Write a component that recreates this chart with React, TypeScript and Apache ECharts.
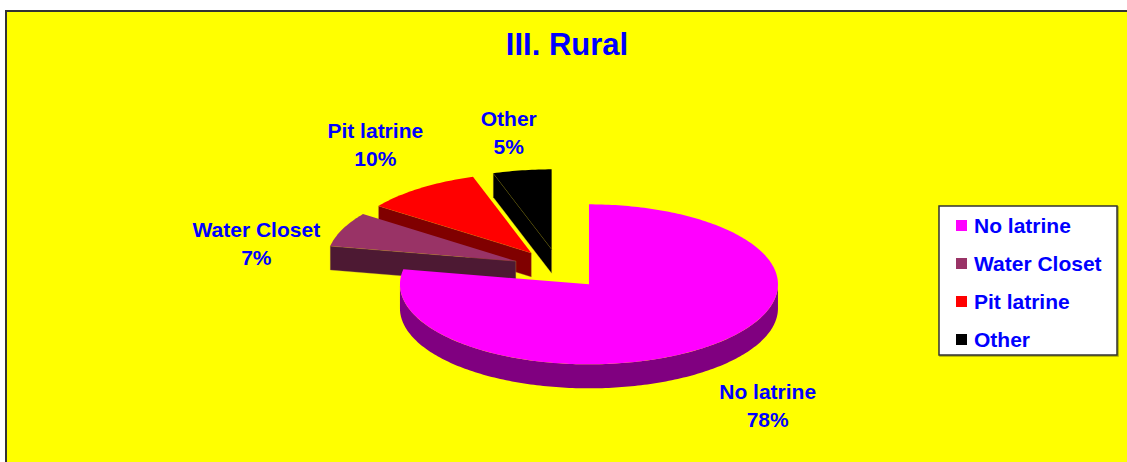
import React, { useEffect, useRef } from "react";
import * as echarts from "echarts";

// ---- data ----
const titleText = "III. Rural";
const categories = ["No latrine", "Water Closet", "Pit latrine", "Other"];
const values = [78, 7, 10, 5];

// ---- styles / layout ----
const topColors = ["#FF00FF", "#993366", "#FF0000", "#000000"];
const sideColors = ["#800080", "#4D1933", "#800000", "#000000"];
const labelNudge = [
  [4, 32],
  [-8, 28],
  [5, -15],
  [0, -2],
];
const CX = 559;
const CY = 269;
const RX = 189;
const RY = 80;
const DEPTH = 24;
const EXPLODE = 47;
const LABEL_R = 1.45;
const FONT = "Arial, 'Liberation Sans', Helvetica, sans-serif";
const BLUE = "#0000FF";

const rad = (d: number) => (d * Math.PI) / 180;

function makeRender(i: number) {
  return (params: any, api: any) => {
    const total = values.reduce((a, b) => a + b, 0);
    const cum = values.slice(0, i).reduce((a, b) => a + b, 0);
    const v = api.value(0) as number;
    const a0 = (cum / total) * 360;
    const a1 = ((cum + v) / total) * 360;
    const t0 = 90 - a0;
    const t1 = 90 - a1;
    const tm = (t0 + t1) / 2;
    const k = RY / RX;
    const vx = CX + EXPLODE * Math.cos(rad(tm));
    const vy = CY - EXPLODE * k * Math.sin(rad(tm));
    const pt = (t: number, dz = 0) => [
      vx + RX * Math.cos(rad(t)),
      vy - RY * Math.sin(rad(t)) + dz,
    ];
    const arc = (from: number, to: number, dz: number) => {
      const n = Math.max(2, Math.ceil(Math.abs(to - from)));
      const pts: number[][] = [];
      for (let j = 0; j <= n; j++) pts.push(pt(from + ((to - from) * j) / n, dz));
      return pts;
    };
    const base = Math.round((1 - Math.sin(rad(tm))) * 100) * 10;
    const children: any[] = [];
    const edges = [
      [t0, t0 + 90],
      [t1, t1 - 90],
    ];
    edges.forEach(([te, tn]) => {
      if (Math.sin(rad(tn)) < -1e-6) {
        const p = pt(te);
        children.push({
          type: "polygon",
          z2: base,
          shape: {
            points: [
              [vx, vy],
              p,
              [p[0], p[1] + DEPTH],
              [vx, vy + DEPTH],
            ],
          },
          style: { fill: sideColors[i], stroke: "rgba(200,170,60,0.55)", lineWidth: 0.6 },
        });
      }
    });
    [-360, 0, 360].forEach((off) => {
      const lo = Math.max(t1, -180 + off);
      const hi = Math.min(t0, off);
      if (hi - lo > 1e-6) {
        const top = arc(lo, hi, 0);
        const bottom = arc(hi, lo, DEPTH);
        children.push({
          type: "polygon",
          z2: base,
          shape: { points: top.concat(bottom) },
          style: { fill: sideColors[i] },
        });
      }
    });
    children.push({
      type: "polygon",
      z2: base + 1,
      shape: { points: [[vx, vy]].concat(arc(t0, t1, 0)) },
      style: { fill: topColors[i] },
    });
    const pct = Math.round((v / total) * 100);
    children.push({
      type: "text",
      z2: 9000,
      x: vx + LABEL_R * RX * Math.cos(rad(tm)) + labelNudge[i][0],
      y: vy - LABEL_R * RY * Math.sin(rad(tm)) + labelNudge[i][1],
      style: {
        text: categories[i] + "\n" + pct + "%",
        fill: BLUE,
        fontSize: 21,
        fontWeight: "bold",
        fontFamily: FONT,
        align: "center",
        verticalAlign: "middle",
        lineHeight: 28,
      },
    });
    return { type: "group", children };
  };
}

export default function App() {
  const ref = useRef<HTMLDivElement>(null);
  useEffect(() => {
    document.body.style.margin = "0";
    if (!ref.current) return;
    const chart = echarts.init(ref.current, undefined, { renderer: "svg" });
    const option: any = {
      animation: false,
      backgroundColor: "#FFFFFF",
      graphic: [
        {
          type: "rect",
          z: 0,
          shape: { x: 6, y: 11, width: 1200, height: 600 },
          style: { fill: "#FFFF00", stroke: "#333333", lineWidth: 2 },
        },
        {
          type: "rect",
          z: 1,
          shape: { x: 939, y: 206, width: 178, height: 149 },
          style: {
            fill: "#FFFFFF",
            stroke: "#333333",
            lineWidth: 1.5,
            shadowColor: "rgba(0,0,0,0.35)",
            shadowOffsetX: 1,
            shadowOffsetY: 1,
            shadowBlur: 0,
          },
        },
        {
          type: "text",
          z: 5,
          x: 567,
          y: 44,
          style: {
            text: titleText,
            fill: BLUE,
            fontSize: 31,
            fontWeight: "bold",
            fontFamily: FONT,
            align: "center",
            verticalAlign: "middle",
          },
        },
      ],
      legend: {
        orient: "vertical",
        left: 951,
        top: 210,
        padding: 5,
        icon: "rect",
        itemWidth: 11,
        itemHeight: 11,
        itemGap: 17,
        selectedMode: false,
        data: categories,
        textStyle: {
          fontSize: 21,
          fontWeight: "bold",
          color: BLUE,
          fontFamily: FONT,
          lineHeight: 20,
          padding: [0, 0, 0, 2],
        },
      },
      series: categories.map((name, i) => ({
        type: "custom",
        name,
        coordinateSystem: "none",
        itemStyle: { color: topColors[i] },
        data: [[values[i]]],
        renderItem: makeRender(i),
      })),
    };
    chart.setOption(option);
    return () => chart.dispose();
  }, []);
  return <div ref={ref} style={{ width: 1127, height: 462 }} />;
}
